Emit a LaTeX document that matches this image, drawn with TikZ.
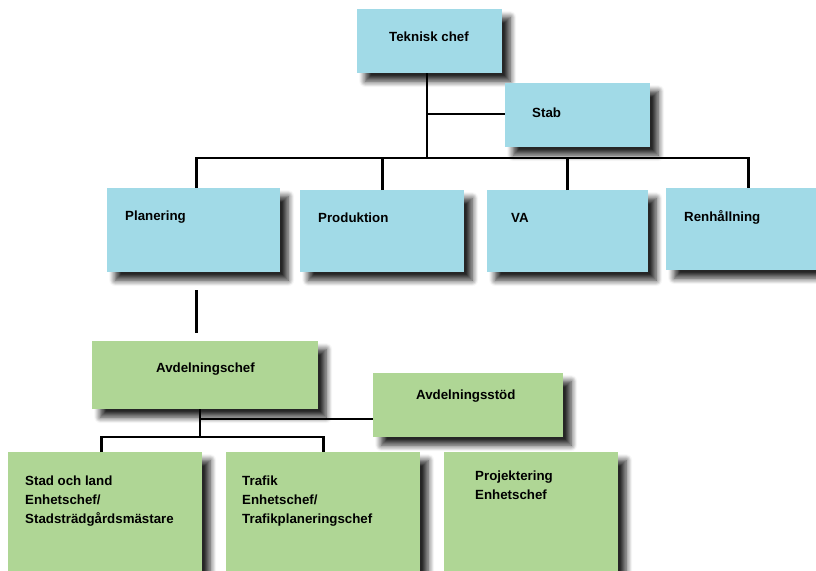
\documentclass[tikz,border=0pt]{standalone}
\usepackage{fontspec}
\setmainfont{Liberation Sans}
\usepackage{tikz}
\usetikzlibrary{
  calc,
  positioning,
  shadows,
  shadows.blur,
}
\definecolor{boxblue}{RGB}{161, 218, 231}
\definecolor{boxgreen}{RGB}{175, 214, 149}
\tikzstyle{unit} = [
  rectangle,
  anchor=north west,
  inner sep=0pt,
  blur shadow={shadow xshift=8pt, shadow yshift=-8pt, shadow opacity=85, shadow blur radius=6pt, shadow blur steps=8},
]
\tikzstyle{blueunit} = [unit, fill=boxblue]
\tikzstyle{greenunit} = [unit, fill=boxgreen]
\tikzstyle{caption} = [
  anchor=base west,
  inner sep=0pt,
  align=left,
  font=\bfseries\fontsize{13.3}{19}\selectfont,
]
\tikzstyle{link} = [line width=2.6pt, black]

\begin{document}
\begin{tikzpicture}[x=1pt, y=-1pt]
  \useasboundingbox (0,0) rectangle (816,570);
  \clip (0,0) rectangle (816,570);
  % top level
  \node[blueunit, minimum width=145pt, minimum height=64pt] (chef) at (357,9) {};
  \node[blueunit, minimum width=145pt, minimum height=64pt] (stab) at (505,83) {};
  \node[blueunit, minimum width=173pt, minimum height=84pt] (plan) at (107,188) {};
  \node[blueunit, minimum width=164pt, minimum height=82pt] (prod) at (300,190) {};
  \node[blueunit, minimum width=161pt, minimum height=82pt] (va) at (487,190) {};
  \node[blueunit, minimum width=164pt, minimum height=82pt] (renh) at (666,188) {};
  % planering
  \node[greenunit, minimum width=226pt, minimum height=68pt] (avdchef) at (92,341) {};
  \node[greenunit, minimum width=190pt, minimum height=64pt] (avdstod) at (373,373) {};
  \node[greenunit, minimum width=194pt, minimum height=130pt] (stad) at (8,452) {};
  \node[greenunit, minimum width=194pt, minimum height=130pt] (trafik) at (226,452) {};
  \node[greenunit, minimum width=174pt, minimum height=130pt] (proj) at (444,452) {};

  \node[caption] (chef-t) at (389,41) {Teknisk chef};
  \node[caption] (stab-t) at (532,117) {Stab};
  \node[caption] (plan-t) at (125,220) {Planering};
  \node[caption] (prod-t) at (318,222) {Produktion};
  \node[caption] (va-t) at (511,222) {VA};
  \node[caption] (renh-t) at (684,221) {Renhållning};
  \node[caption] (avdchef-t) at (156,372) {Avdelningschef};
  \node[caption] (avdstod-t) at (416,399) {Avdelningsstöd};
  \node[caption] (stad-t) at (25,523) {Stad och land\\Enhetschef/\\Stadsträdgårdsmästare};
  \node[caption] (trafik-t) at (242,523) {Trafik\\Enhetschef/\\Trafikplaneringschef};
  \node[caption] (proj-t) at (475,499) {Projektering\\Enhetschef};

  \coordinate (bus1) at (427,158);
  \coordinate (fork1) at (427,114);
  \coordinate (bus2) at (200,437);
  \coordinate (fork2) at (200,419);
  \draw[link] (chef.south -| bus1) -- (bus1);
  \draw[link] (fork1) -- (fork1 -| stab.west);
  \draw[link] ([xshift=2.5pt]plan.north) -- ([xshift=2.5pt]plan.north |- bus1) -- (renh.north |- bus1) -- (renh.north);
  \draw[link] (prod.north) -- (prod.north |- bus1);
  \draw[link] (va.north) -- (va.north |- bus1);
  \draw[link, shorten <=18pt, shorten >=8pt] ([xshift=2.5pt]plan.south) -- ([xshift=2.5pt]plan.south |- avdchef.north);
  \draw[link] (avdchef.south -| bus2) -- (bus2);
  \draw[link] (fork2) -- (fork2 -| avdstod.west);
  \draw[link] ([xshift=-4pt]stad.north) -- ([xshift=-4pt]stad.north |- bus2) -- (trafik.north |- bus2) -- (trafik.north);
\end{tikzpicture}
\end{document}
